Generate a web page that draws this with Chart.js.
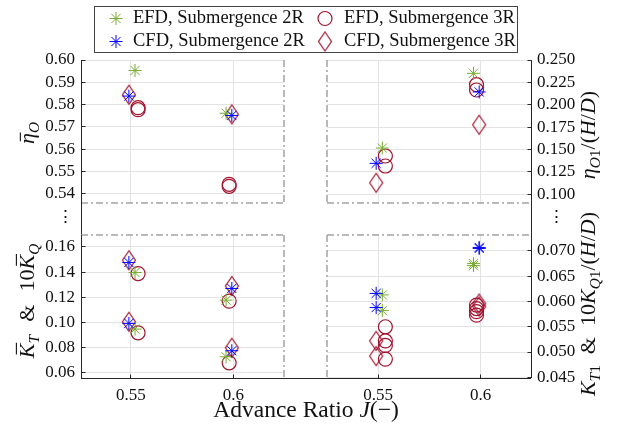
<!DOCTYPE html>
<html>
<head>
<meta charset="utf-8">
<script src="https://cdn.jsdelivr.net/npm/chart.js"></script>
<style>
  html, body { margin: 0; padding: 0; background: #ffffff; }
  #wrap { position: relative; width: 622px; height: 435px; }
  #wrap canvas { position: absolute; left: 0; top: 0; }
</style>
</head>
<body>
<div id="wrap">
  <canvas id="cTL" width="622" height="435"></canvas>
  <canvas id="cTR" width="622" height="435"></canvas>
  <canvas id="cBR" width="622" height="435"></canvas>
  <canvas id="cBL" width="622" height="435"></canvas>
</div>
<script>
// ---------------- data ----------------
const J_TICKS  = [0.55, 0.6];
const J_LABELS = ['0.55', '0.6'];

// advance ratio at which each series is plotted (slightly staggered, as in the figure)
const J_EFD_2R = [0.552, 0.5965];
const J_CFD_2R = [0.549, 0.5993];
const J_EFD_3R = [0.5535, 0.598];
const J_CFD_3R = [0.549, 0.5993];

// mean open-water efficiency  η̄_O   (top-left)
const ETA_EFD_2R = [0.5953, 0.5761];
const ETA_CFD_2R = [0.5838, 0.5751];
const ETA_EFD_3R = [[0.5786, 0.5777], [0.5442, 0.5433]];
const ETA_CFD_3R = [0.5844, 0.5756];

// η_O1/(H/D)   (top-right)
const ETA1_EFD_2R = [0.1517, 0.2351];
const ETA1_CFD_2R = [0.1346, 0.2143];
const ETA1_EFD_3R = [[0.1428, 0.1316], [0.2224, 0.2165]];
const ETA1_CFD_3R = [0.1129, 0.1777];

// K̄_T   (bottom-left, lower group)
const KT_EFD_2R = [0.0945, 0.0724];
const KT_CFD_2R = [0.0990, 0.0772];
const KT_EFD_3R = [[0.0915], [0.0676]];
const KT_CFD_3R = [0.1003, 0.0796];
// 10 K̄_Q   (bottom-left, upper group)
const KQ_EFD_2R = [0.1396, 0.1176];
const KQ_CFD_2R = [0.1476, 0.1269];
const KQ_EFD_3R = [[0.1388], [0.1168]];
const KQ_CFD_3R = [0.1494, 0.1289];

// K_T1/(H/D)   (bottom-right)
const KT1_EFD_2R = [0.0582, 0.0671];
const KT1_CFD_2R = [0.0588, 0.0705];
const KT1_EFD_3R = [[0.0513, 0.0486], [0.0580, 0.0573]];
const KT1_CFD_3R = [0.0492, 0.0590];
// 10 K_Q1/(H/D)   (bottom-right)
const KQ1_EFD_2R = [0.0613, 0.0675];
const KQ1_CFD_2R = [0.0616, 0.0707];
const KQ1_EFD_3R = [[0.0550, 0.0522], [0.0593, 0.0586]];
const KQ1_CFD_3R = [0.0522, 0.0596];

// axis ticks
const TICKS_ETA  = [0.54, 0.55, 0.56, 0.57, 0.58, 0.59, 0.60];
const TICKS_ETA1 = [0.100, 0.125, 0.150, 0.175, 0.200, 0.225, 0.250];
const TICKS_K    = [0.06, 0.08, 0.10, 0.12, 0.14, 0.16];
const TICKS_K1   = [0.045, 0.050, 0.055, 0.060, 0.065, 0.070];

const LEGEND_LABELS = ['EFD, Submergence 2R', 'CFD, Submergence 2R', 'EFD, Submergence 3R', 'CFD, Submergence 3R'];

// ---------------- styling / layout ----------------
const SERIF = '"Liberation Serif", "Times New Roman", serif';
const TEXT = '#111111';
const GRID = '#e3e3e3';
const DASH = '#a3a3a3';
const AXIS = '#262626';
const C_EFD2 = '#77AC30', C_CFD2 = '#0000FF', C_3R = '#A2142F';
const L = { W: 622, H: 435, left: 81, midL: 284, midR: 327, right: 531,
            top: 60, topBot: 203, botTop: 235, bottom: 378 };
const TICK_FONT = 17;

function diamondImg(color) {
  const c = document.createElement('canvas');
  c.width = 16; c.height = 22;
  const g = c.getContext('2d');
  g.strokeStyle = color; g.lineWidth = 1.2;
  g.beginPath(); g.moveTo(8, 1.5); g.lineTo(14.5, 11); g.lineTo(8, 20.5); g.lineTo(1.5, 11); g.closePath();
  g.stroke();
  return c;
}
const DIAMOND = diamondImg(C_3R);

const STYLE = {
  EFD2: { pointStyle: 'star', pointRadius: 6.5, borderWidth: 1, color: C_EFD2 },
  CFD2: { pointStyle: 'star', pointRadius: 6.5, borderWidth: 1, color: C_CFD2 },
  EFD3: { pointStyle: 'circle', pointRadius: 7, borderWidth: 1.2, color: C_3R },
  CFD3: { pointStyle: DIAMOND, pointRadius: 8, borderWidth: 1.2, color: C_3R }
};

function pts(J, ...groups) {
  const out = [];
  groups.forEach(vals => vals.forEach((v, i) => {
    (Array.isArray(v) ? v : [v]).forEach(y => out.push({ x: J[i], y }));
  }));
  return out;
}

function ds(label, key, data) {
  const s = STYLE[key];
  return { label, data, pointStyle: s.pointStyle, pointRadius: s.pointRadius,
           pointBorderWidth: s.borderWidth, borderColor: s.color,
           pointBorderColor: s.color, backgroundColor: 'rgba(0,0,0,0)',
           pointBackgroundColor: 'rgba(0,0,0,0)', showLine: false };
}

// ---------------- rich text helper (subscripts, bars) ----------------
function richText(ctx, segs, cx, cy, rot, size) {
  ctx.save();
  ctx.translate(cx, cy); ctx.rotate(rot);
  const items = segs.map(s => {
    if (s.gap) return { gap: true, w: s.gap * size };
    const sz = s.sub ? size * 0.7 : size;
    const font = (s.it ? 'italic ' : '') + sz + 'px ' + SERIF;
    ctx.font = font;
    return Object.assign({}, s, { font, w: ctx.measureText(s.t).width });
  });
  const total = items.reduce((a, b) => a + b.w, 0);
  let x = -total / 2;
  ctx.textAlign = 'left'; ctx.textBaseline = 'alphabetic';
  ctx.fillStyle = TEXT; ctx.strokeStyle = TEXT;
  for (const it of items) {
    if (!it.gap) {
      ctx.font = it.font;
      ctx.fillText(it.t, x, it.sub ? size * 0.22 : 0);
      if (it.bar) {
        ctx.beginPath(); ctx.lineWidth = 1.1;
        const by = -size * it.bar;
        ctx.moveTo(x + it.w * 0.25, by); ctx.lineTo(x + it.w * 1.05, by); ctx.stroke();
      }
    }
    x += it.w;
  }
  ctx.restore();
}

// ---------------- per-panel decoration: dashed inner edges, axis lines, inward ticks ----------------
const panelDeco = {
  id: 'panelDeco',
  afterDraw(chart, args, o) {
    const { ctx, chartArea: a, scales: { x, y } } = chart;
    const px = v => Math.floor(v) + 0.5;
    ctx.save();
    ctx.strokeStyle = DASH; ctx.lineWidth = 1.5; ctx.setLineDash([7, 3, 2, 3]);
    const seg = (x1, y1, x2, y2) => { ctx.beginPath(); ctx.moveTo(x1, y1); ctx.lineTo(x2, y2); ctx.stroke(); };
    (o.dashed || []).forEach(side => {
      if (side === 'right') seg(a.right, a.top, a.right, a.bottom);
      if (side === 'left') seg(a.left, a.top, a.left, a.bottom);
      if (side === 'bottom') seg(a.left, a.bottom, a.right, a.bottom);
      if (side === 'top') seg(a.left, a.top, a.right, a.top);
    });
    ctx.setLineDash([]); ctx.strokeStyle = AXIS; ctx.lineWidth = 1;
    (o.axes || []).forEach(side => {
      if (side === 'left') {
        seg(px(a.left), a.top, px(a.left), o.extendTo || a.bottom);
        y.ticks.forEach(t => { const p = px(y.getPixelForValue(t.value)); seg(px(a.left), p, px(a.left) + 4, p); });
      }
      if (side === 'right') {
        seg(px(a.right), a.top, px(a.right), o.extendTo || a.bottom);
        y.ticks.forEach(t => { const p = px(y.getPixelForValue(t.value)); seg(px(a.right) - 4, p, px(a.right), p); });
      }
      if (side === 'bottom') {
        seg(a.left, px(a.bottom), o.extendX || a.right, px(a.bottom));
        x.ticks.forEach(t => { const p = px(x.getPixelForValue(t.value)); seg(p, px(a.bottom), p, px(a.bottom) - 4); });
      }
    });
    ctx.restore();
  }
};

// ---------------- global annotations: legend, axis titles, ellipses ----------------
const annotations = {
  id: 'annotations',
  afterDraw(chart) {
    const ctx = chart.ctx;
    ctx.save();
    // legend
    ctx.fillStyle = '#ffffff';
    ctx.fillRect(94.5, 6.5, 423, 46);
    ctx.strokeStyle = '#444444'; ctx.lineWidth = 1;
    ctx.strokeRect(94.5, 6.5, 423, 46);
    const entries = [
      { key: 'EFD2', label: LEGEND_LABELS[0], mx: 116, tx: 133, y: 18.5 },
      { key: 'CFD2', label: LEGEND_LABELS[1], mx: 116, tx: 133, y: 41.5 },
      { key: 'EFD3', label: LEGEND_LABELS[2], mx: 325, tx: 344, y: 18.5 },
      { key: 'CFD3', label: LEGEND_LABELS[3], mx: 325, tx: 344, y: 41.5 }
    ];
    entries.forEach(e => {
      const s = STYLE[e.key];
      ctx.save();
      ctx.strokeStyle = s.color; ctx.fillStyle = 'rgba(0,0,0,0)'; ctx.lineWidth = s.borderWidth;
      Chart.helpers.drawPoint(ctx, { pointStyle: s.pointStyle, radius: s.pointRadius, rotation: 0, borderWidth: s.borderWidth }, e.mx, e.y);
      ctx.restore();
      ctx.fillStyle = TEXT; ctx.font = '18.5px ' + SERIF; ctx.textAlign = 'left'; ctx.textBaseline = 'middle';
      ctx.fillText(e.label, e.tx, e.y);
    });
    // axis titles
    const R = -Math.PI / 2;
    richText(ctx, [{ t: 'η', it: true, bar: 0.62 }, { t: 'O', it: true, sub: true }], 34, 133, R, 22);
    richText(ctx, [{ t: 'K', it: true, bar: 0.8 }, { t: 'T', it: true, sub: true }, { gap: 0.6 }, { t: '&' }, { gap: 0.6 },
                   { t: '10' }, { t: 'K', it: true, bar: 0.8 }, { t: 'Q', it: true, sub: true }], 34, 301, R, 22);
    richText(ctx, [{ t: 'η', it: true }, { t: 'O', it: true, sub: true }, { t: '1', sub: true }, { t: '/(' },
                   { t: 'H', it: true }, { t: '/' }, { t: 'D', it: true }, { t: ')' }], 595, 135, R, 22);
    richText(ctx, [{ t: 'K', it: true }, { t: 'T', it: true, sub: true }, { t: '1', sub: true }, { gap: 0.5 }, { t: '&' }, { gap: 0.5 },
                   { t: '10' }, { t: 'K', it: true }, { t: 'Q', it: true, sub: true }, { t: '1', sub: true }, { t: '/(' },
                   { t: 'H', it: true }, { t: '/' }, { t: 'D', it: true }, { t: ')' }], 595, 304, R, 22);
    richText(ctx, [{ t: 'Advance Ratio ' }, { t: 'J', it: true }, { t: '(−)' }], 306, 417, 0, 23.5);
    // broken-axis ellipses
    ctx.fillStyle = TEXT; ctx.font = '17px "DejaVu Serif", serif'; ctx.textAlign = 'center'; ctx.textBaseline = 'middle';
    ctx.fillText('⋮', 65, 218);
    ctx.fillText('⋮', 556, 218);
    ctx.restore();
  }
};

// ---------------- panels ----------------
function makePanel(id, p) {
  return new Chart(document.getElementById(id), {
    type: 'scatter',
    data: { datasets: p.datasets },
    options: {
      responsive: false, animation: false, events: [],
      layout: { padding: p.padding },
      plugins: { legend: { display: false }, tooltip: { enabled: false }, panelDeco: p.deco },
      scales: {
        x: {
          type: 'linear', position: 'bottom', min: p.xRange[0], max: p.xRange[1],
          afterBuildTicks: s => { s.ticks = J_TICKS.map(v => ({ value: v })); },
          afterFit: s => { s.height = p.xHeight; },
          grid: { color: GRID, lineWidth: 1, drawTicks: false },
          border: { display: false },
          ticks: { display: p.showX, padding: 7, color: TEXT, font: { family: SERIF, size: TICK_FONT },
                   callback: (v, i) => J_LABELS[i] }
        },
        y: {
          type: 'linear', position: p.yPos, min: p.yRange[0], max: p.yRange[1],
          afterBuildTicks: s => { s.ticks = p.yTicks.map(v => ({ value: v })); },
          afterFit: s => { s.width = p.yWidth; },
          grid: { color: GRID, lineWidth: 1, drawTicks: false },
          border: { display: false },
          ticks: { padding: p.yPos === 'left' ? 6 : 6, color: TEXT, font: { family: SERIF, size: TICK_FONT },
                   callback: v => v.toFixed(p.dec) }
        }
      }
    },
    plugins: [panelDeco].concat(p.extra || [])
  });
}

const X_RANGE_L = [0.5256, 0.6248];
const X_RANGE_R = [0.5250, 0.6246];

makePanel('cTL', {
  padding: { left: 0, right: L.W - L.midL, top: L.top, bottom: L.H - L.topBot },
  xRange: X_RANGE_L, yRange: [0.5358, 0.60], yTicks: TICKS_ETA, dec: 2,
  yPos: 'left', yWidth: L.left, xHeight: 0, showX: false,
  deco: { dashed: ['right', 'bottom'], axes: ['left'], extendTo: L.botTop },
  datasets: [
    ds(LEGEND_LABELS[1], 'CFD2', pts(J_CFD_2R, ETA_CFD_2R)),
    ds(LEGEND_LABELS[0], 'EFD2', pts(J_EFD_2R, ETA_EFD_2R)),
    ds(LEGEND_LABELS[2], 'EFD3', pts(J_EFD_3R, ETA_EFD_3R)),
    ds(LEGEND_LABELS[3], 'CFD3', pts(J_CFD_3R, ETA_CFD_3R))
  ]
});

makePanel('cTR', {
  padding: { left: L.midR, right: 0, top: L.top, bottom: L.H - L.topBot },
  xRange: X_RANGE_R, yRange: [0.0903, 0.25], yTicks: TICKS_ETA1, dec: 3,
  yPos: 'right', yWidth: L.W - L.right, xHeight: 0, showX: false,
  deco: { dashed: ['left', 'bottom'], axes: ['right'], extendTo: L.botTop },
  datasets: [
    ds(LEGEND_LABELS[1], 'CFD2', pts(J_CFD_2R, ETA1_CFD_2R)),
    ds(LEGEND_LABELS[0], 'EFD2', pts(J_EFD_2R, ETA1_EFD_2R)),
    ds(LEGEND_LABELS[2], 'EFD3', pts(J_EFD_3R, ETA1_EFD_3R)),
    ds(LEGEND_LABELS[3], 'CFD3', pts(J_CFD_3R, ETA1_CFD_3R))
  ]
});

makePanel('cBR', {
  padding: { left: L.midR, right: 0, top: L.botTop, bottom: 0 },
  xRange: X_RANGE_R, yRange: [0.04486, 0.07316], yTicks: TICKS_K1, dec: 3,
  yPos: 'right', yWidth: L.W - L.right, xHeight: L.H - L.bottom, showX: true,
  deco: { dashed: ['left', 'top'], axes: ['right', 'bottom'] },
  datasets: [
    ds(LEGEND_LABELS[1], 'CFD2', pts(J_CFD_2R, KT1_CFD_2R, KQ1_CFD_2R)),
    ds(LEGEND_LABELS[0], 'EFD2', pts(J_EFD_2R, KT1_EFD_2R, KQ1_EFD_2R)),
    ds(LEGEND_LABELS[2], 'EFD3', pts(J_EFD_3R, KT1_EFD_3R, KQ1_EFD_3R)),
    ds(LEGEND_LABELS[3], 'CFD3', pts(J_CFD_3R, KT1_CFD_3R, KQ1_CFD_3R))
  ]
});

makePanel('cBL', {
  padding: { left: 0, right: L.W - L.midL, top: L.botTop, bottom: 0 },
  xRange: X_RANGE_L, yRange: [0.05546, 0.16955], yTicks: TICKS_K, dec: 2,
  yPos: 'left', yWidth: L.left, xHeight: L.H - L.bottom, showX: true,
  deco: { dashed: ['right', 'top'], axes: ['left', 'bottom'], extendX: L.midR },
  extra: [annotations],
  datasets: [
    ds(LEGEND_LABELS[1], 'CFD2', pts(J_CFD_2R, KT_CFD_2R, KQ_CFD_2R)),
    ds(LEGEND_LABELS[0], 'EFD2', pts(J_EFD_2R, KT_EFD_2R, KQ_EFD_2R)),
    ds(LEGEND_LABELS[2], 'EFD3', pts(J_EFD_3R, KT_EFD_3R, KQ_EFD_3R)),
    ds(LEGEND_LABELS[3], 'CFD3', pts(J_CFD_3R, KT_CFD_3R, KQ_CFD_3R))
  ]
});
</script>
</body>
</html>
